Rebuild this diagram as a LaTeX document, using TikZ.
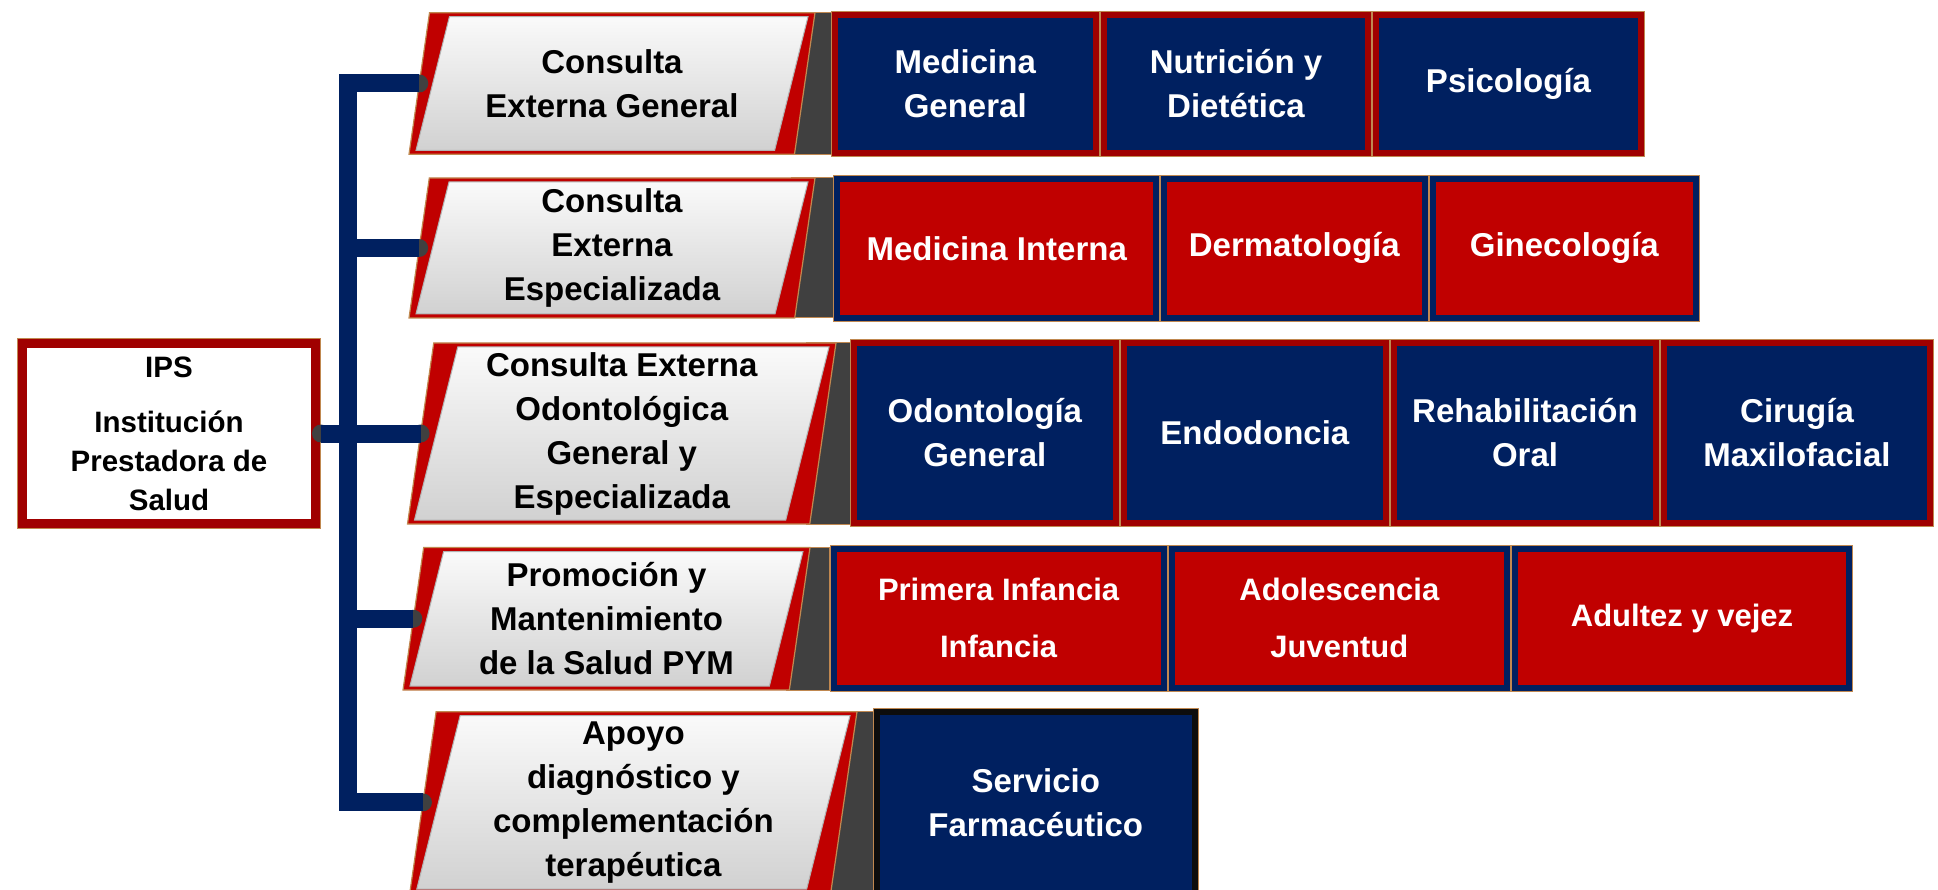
\documentclass[tikz,border=0pt]{standalone}
\usepackage{fontspec}
\setmainfont{Liberation Sans}
\usetikzlibrary{positioning}

\definecolor{navy}{HTML}{002060}
\definecolor{ipsred}{HTML}{C00000}
\definecolor{darkred}{HTML}{A00000}
\definecolor{tanline}{HTML}{C08850}
\definecolor{darkgrey}{HTML}{404040}

\tikzset{
  box/.style={inner sep=0pt, outer sep=4pt, align=center, text=white,
              font=\fontsize{33}{44}\selectfont\bfseries, line width=6pt,
              preaction={draw=tanline, line width=8pt}},
  navybox/.style={box, fill=navy, draw=darkred},
  redbox/.style={box, fill=ipsred, draw=navy},
  lefttext/.style={align=center, font=\fontsize{33}{44}\selectfont\bfseries},
  bus/.style={draw=navy, line width=18pt},
  dot/.style={fill=darkgrey},
}

% slanted label with red edges and dark tail: name, ytop, ybot, xleft, xright, xtail, text
\newcommand{\leftshape}[7]{%
  \pgfmathsetmacro\shapeh{#3-#2}
  \pgfmathsetmacro\slnt{0.145*\shapeh}
  \pgfmathsetmacro\slin{0.25*(\shapeh-8)}
  \filldraw[fill=darkgrey, draw=tanline, line width=1pt] (#5-\slnt-3,#2) rectangle (#6,#3);
  \filldraw[fill=ipsred, draw=tanline, line width=1.2pt]
    (#4,#3) -- (#4+\slnt,#2) -- (#5,#2) -- (#5-\slnt,#3) -- cycle;
  \shadedraw[top color=black!2, bottom color=black!18, draw=black!30, line width=1pt]
    (#4+7,#3-4) -- (#4+7+\slin,#2+4) -- (#5-7,#2+4) -- (#5-7-\slin,#3-4) -- cycle;
  \node[lefttext] (#1) at ({(#4+#5)/2},{(#2+#3)/2}) {#7};
  \coordinate (#1-in) at ({#4+\slnt/2},{(#2+#3)/2});
}

\begin{document}
\begin{tikzpicture}[x=1pt,y=-1pt]
  \useasboundingbox (0,0) rectangle (1938,890);

  % left column
  \leftshape{r1}{12.7}{154.3}{409}{815}{831}{Consulta\\Externa General}
  \leftshape{r2}{178}{318}{409}{815}{833}{Consulta\\Externa\\Especializada}
  \leftshape{r3}{343}{524}{407.5}{836}{850}{Consulta Externa\\Odontológica\\General y\\Especializada}
  \leftshape{r4}{547.5}{690}{403}{810}{829.5}{Promoción y\\Mantenimiento\\de la Salud PYM}
  \leftshape{r5}{711.7}{893}{409.8}{857}{873}{Apoyo\\diagnóstico y\\complementación\\terapéutica}

  \node[draw=darkred, line width=9pt, preaction={draw=tanline, line width=11pt},
        fill=white, minimum width=293pt, minimum height=179pt, outer sep=5.5pt,
        inner sep=0pt, align=center, font=\fontsize{29.5}{39}\selectfont\bfseries]
        (ips) at (169,433.5) {IPS\\[16pt]Institución\\Prestadora de\\Salud};

  % services
  \node[navybox, minimum width=261.5pt, minimum height=138pt, anchor=north west] (mg) at (830.5,10.7) {Medicina\\General};
  \node[navybox, minimum width=264pt, minimum height=138pt, right=0pt of mg] (nd) {Nutrición y\\Dietética};
  \node[navybox, minimum width=265pt, minimum height=138pt, right=0pt of nd] (psi) {Psicología};

  \node[redbox, minimum width=318.6pt, minimum height=138.7pt, anchor=north west] (mi) at (833.4,175) {Medicina Interna};
  \node[redbox, minimum width=260.6pt, minimum height=138.7pt, right=0pt of mi] (der) {Dermatología};
  \node[redbox, minimum width=263.4pt, minimum height=138.7pt, right=0pt of der] (gin) {Ginecología};

  \node[navybox, minimum width=261.7pt, minimum height=179.7pt, anchor=north west] (og) at (850,339) {Odontología\\General};
  \node[navybox, minimum width=262.3pt, minimum height=179.7pt, right=0pt of og] (endo) {Endodoncia};
  \node[navybox, minimum width=262pt, minimum height=179.7pt, right=0pt of endo] (ro) {Rehabilitación\\Oral};
  \node[navybox, minimum width=266pt, minimum height=179.7pt, right=0pt of ro] (cmf) {Cirugía\\Maxilofacial};

  \node[redbox, minimum width=330.2pt, minimum height=138.7pt, anchor=north west,
        font=\fontsize{31}{57}\selectfont\bfseries] (pinf) at (829.5,545) {Primera Infancia\\Infancia};
  \node[redbox, minimum width=335.3pt, minimum height=138.7pt, right=0pt of pinf,
        font=\fontsize{31}{57}\selectfont\bfseries] (adj) {Adolescencia\\Juventud};
  \node[redbox, minimum width=334pt, minimum height=138.7pt, right=0pt of adj,
        font=\fontsize{31}{57}\selectfont\bfseries] (adv) {Adultez y vejez};

  \node[box, fill=navy, draw=black!95, minimum width=317.5pt, minimum height=182pt,
        anchor=north west] (sf) at (873,708) {Servicio\\Farmacéutico};

  % connectors
  \coordinate (busx) at (348,0);
  \draw[bus, line cap=rect] (r1-in -| busx) -- (r5-in -| busx);
  \foreach \r in {r1,r2,r3,r4,r5} {
    \fill[dot] (\r-in) circle (9pt);
    \draw[bus] (\r-in -| busx) -- (\r-in);
  }
  \fill[dot] (ips.east |- r3-in) circle (9pt);
  \draw[bus] (ips.east |- r3-in) -- (r3-in);
\end{tikzpicture}
\end{document}
